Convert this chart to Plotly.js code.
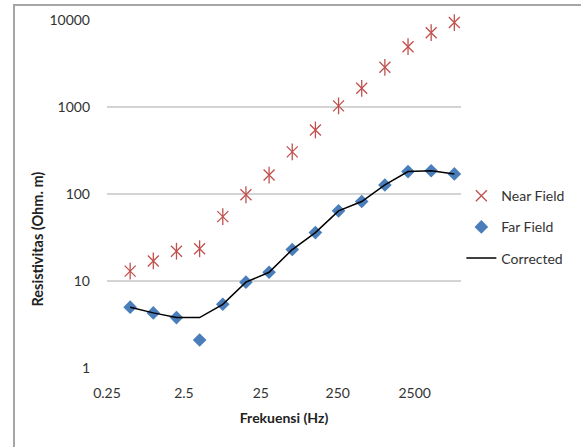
<!DOCTYPE html>
<html>
<head>
<meta charset="utf-8">
<script src="https://cdn.plot.ly/plotly-3.0.1.min.js"></script>
<style>
  html, body { margin: 0; padding: 0; background: #fff; }
  #wrap { position: relative; width: 581px; height: 447px; overflow: hidden; }
  #chart { width: 581px; height: 447px; }
  #frame { position: absolute; left: 13px; top: 4px; width: 700px; height: 600px;
           border-left: 2px solid #a6a6a6; border-top: 2px solid #a6a6a6; pointer-events: none; }
</style>
</head>
<body>
<div id="wrap">
  <div id="chart"></div>
  <div id="frame"></div>
</div>
<script>
// Frequency (Hz)
const frequency = [0.5, 1, 2, 4, 8, 16, 32, 64, 128, 256, 512, 1024, 2048, 4096, 8192];
// Apparent resistivity (Ohm.m)
const nearField = [13, 17, 22, 23.5, 55, 98, 165, 305, 545, 1030, 1640, 2860, 4930, 7150, 9350];
const farField  = [5.0, 4.3, 3.8, 2.1, 5.4, 9.7, 12.6, 23, 36, 64, 82, 127, 181, 185, 170];
const corrected = [5.0, 4.3, 3.8, 3.8, 5.4, 9.7, 12.6, 23, 36, 64, 82, 127, 181, 185, 170];

const xTickVals = [0.25, 2.5, 25, 250, 2500];
const xTickText = ['0.25', '2.5', '25', '250', '2500'];
const yTickVals = [1, 10, 100, 1000, 10000];
const yTickText = ['1', '10', '100', '1000', '10000'];

const FONT = 'Lato, "Open Sans", sans-serif';
const RED = '#c0504d';
const BLUE = '#4a7ebb';

const traces = [
  {
    x: frequency, y: nearField, name: 'Near Field', type: 'scatter', mode: 'markers',
    legendgroup: 'a', cliponaxis: false,
    marker: { symbol: 'x-thin-open', size: 11, color: RED, line: { color: RED, width: 1.3 } }
  },
  {
    x: frequency, y: nearField, name: 'Near Field', type: 'scatter', mode: 'markers',
    legendgroup: 'a', showlegend: false, hoverinfo: 'skip', cliponaxis: false,
    marker: { symbol: 'line-ns-open', size: 12, color: RED, line: { color: RED, width: 1.3 } }
  },
  {
    x: frequency, y: farField, name: 'Far Field', type: 'scatter', mode: 'markers',
    legendgroup: 'b', cliponaxis: false,
    marker: { symbol: 'diamond', size: 10.5, color: BLUE, line: { width: 0 } }
  },
  {
    x: frequency, y: corrected, name: 'Corrected', type: 'scatter', mode: 'lines',
    legendgroup: 'c',
    line: { color: '#000000', width: 1.5 }
  }
];

const layout = {
  width: 581, height: 447,
  margin: { l: 107, r: 114, t: 20, b: 79 },
  paper_bgcolor: 'rgba(0,0,0,0)', plot_bgcolor: '#ffffff',
  font: { family: FONT, size: 14, color: '#333333' },
  showlegend: true,
  legend: {
    x: 1.001, xanchor: 'left', y: 0.54, yanchor: 'top',
    traceorder: 'grouped', tracegroupgap: 10,
    font: { family: FONT, size: 14, color: '#333333' },
    bgcolor: 'rgba(0,0,0,0)'
  },
  xaxis: {
    type: 'log', range: [Math.log10(0.25), 4],
    tickmode: 'array', tickvals: xTickVals, ticktext: xTickText,
    showgrid: false, zeroline: false, showline: false, ticks: '',
    ticklabelstandoff: 15,
    tickfont: { family: FONT, size: 14, color: '#333333' },
    title: { text: '<b>Frekuensi (Hz)</b>', font: { family: FONT, size: 14, color: '#222222' }, standoff: 13 }
  },
  yaxis: {
    type: 'log', range: [0, 4],
    tickmode: 'array', tickvals: yTickVals, ticktext: yTickText,
    showgrid: true, gridcolor: '#d4d4d4', gridwidth: 1.3,
    zeroline: false, showline: false, ticks: '',
    ticklabelstandoff: 16,
    tickfont: { family: FONT, size: 14, color: '#333333' }
  },
  annotations: [
    {
      text: '<b>Resistivitas (Ohm. m)</b>', textangle: -90,
      xref: 'paper', yref: 'paper', x: -0.197, y: 0.37,
      xanchor: 'center', yanchor: 'middle', showarrow: false,
      font: { family: FONT, size: 14.5, color: '#222222' }
    }
  ]
};

Plotly.newPlot('chart', traces, layout, { displayModeBar: false, staticPlot: true });
</script>
</body>
</html>
